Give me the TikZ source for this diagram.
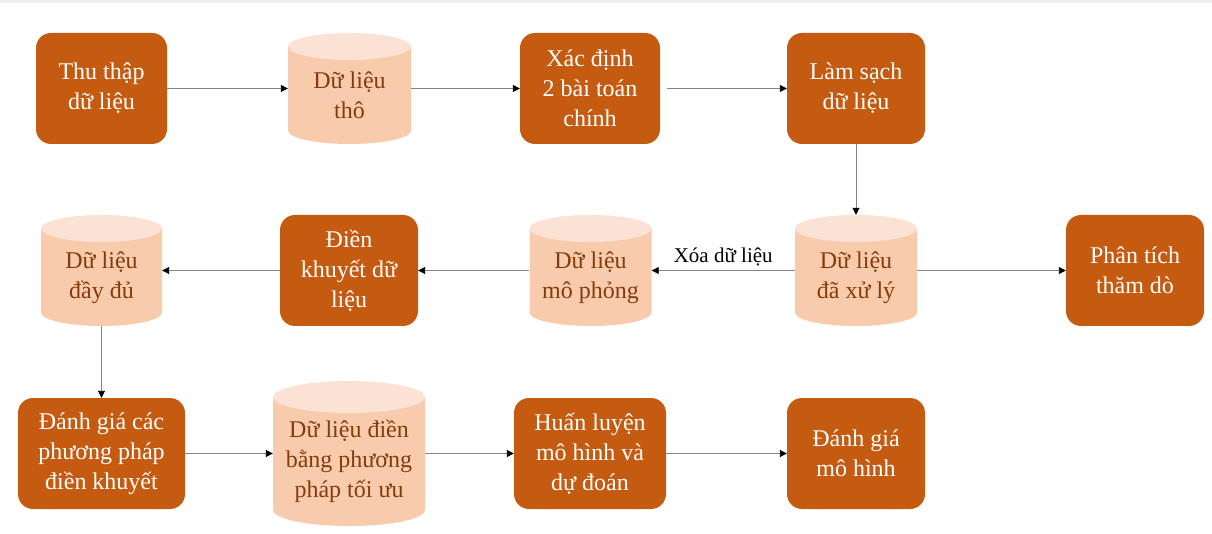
\documentclass[tikz,border=0pt]{standalone}
\usepackage{fontspec}
\setmainfont{Liberation Serif}
\usetikzlibrary{arrows.meta,calc}
\definecolor{boxorange}{HTML}{C55A11}
\definecolor{cylbody}{HTML}{F8CBAD}
\definecolor{cyltop}{HTML}{FBE2D5}
\definecolor{cyltxt}{HTML}{843C0C}
\definecolor{linegray}{HTML}{858585}
\definecolor{topstrip}{HTML}{EEEEEE}
\newcommand\drawcyl[5]{% cx, cy, w, h, ry
  \fill[cylbody] ({#1-#3/2},{#2+#4/2-#5}) -- ({#1-#3/2},{#2-#4/2+#5})
    arc[start angle=180,end angle=360,x radius={#3/2},y radius=#5]
    -- ({#1+#3/2},{#2+#4/2-#5}) -- cycle;
  \fill[cyltop] (#1,{#2+#4/2-#5}) ellipse[x radius={#3/2},y radius=#5];
}
\tikzset{
  procbox/.style={rectangle, rounded corners=15pt, fill=boxorange, text=white,
    align=center, minimum height=111pt, inner sep=0pt,
    font=\fontsize{24}{30}\selectfont},
  cylarea/.style={rectangle, inner sep=0pt, minimum height=111pt},
  cyllabel/.style={text=cyltxt, align=center, inner sep=0pt,
    font=\fontsize{24}{30}\selectfont},
  conn/.style={draw=linegray, line width=0.9pt,
    -{Triangle[length=7pt,width=7pt,color=black]}},
  edgelabel/.style={font=\fontsize{21}{25}\selectfont, text=black, inner sep=1pt}
}
\begin{document}
\begin{tikzpicture}[x=1pt,y=1pt]
\useasboundingbox (0,0) rectangle (1212,533);
\fill[white] (0,0) rectangle (1212,533);
\fill[topstrip] (0,530) rectangle (1212,533);

% cylinders (shapes)
\drawcyl{349.5}{444.5}{123}{111}{13.5}
\drawcyl{101.5}{262.5}{121}{111}{13.5}
\drawcyl{590.5}{262.5}{122}{111}{13.5}
\drawcyl{856}{262.5}{122}{111}{13.5}
\drawcyl{349}{79.5}{152}{145}{16}

% cylinder areas
\node[cylarea, minimum width=123pt] (tho) at (349.5,444.5) {};
\node[cylarea, minimum width=121pt] (dayd) at (101.5,262.5) {};
\node[cylarea, minimum width=122pt] (mop) at (590.5,262.5) {};
\node[cylarea, minimum width=122pt] (xl) at (856,262.5) {};
\node[cylarea, minimum width=152pt, minimum height=145pt] (dld) at (349,79.5) {};

\node[cyllabel] (thoT) at ([yshift=-7pt]tho.center) {Dữ liệu\\thô};
\node[cyllabel] (daydT) at ([yshift=-7pt]dayd.center) {Dữ liệu\\đầy đủ};
\node[cyllabel] (mopT) at ([yshift=-7pt]mop.center) {Dữ liệu\\mô phỏng};
\node[cyllabel] (xlT) at ([yshift=-7pt]xl.center) {Dữ liệu\\đã xử lý};
\node[cyllabel] (dldT) at ([yshift=-8pt]dld.center) {Dữ liệu điền\\bằng phương\\pháp tối ưu};

% process boxes
\node[procbox, minimum width=131pt] (thu) at (101.5,444.5) {Thu thập\\dữ liệu};
\node[procbox, minimum width=140pt] (xac) at (590,444.5) {Xác định\\2 bài toán\\chính};
\node[procbox, minimum width=138pt] (lam) at (856,444.5) {Làm sạch\\dữ liệu};
\node[procbox, minimum width=138pt] (dien) at (349,262.5) {Điền\\khuyết dữ\\liệu};
\node[procbox, minimum width=138pt] (phan) at (1135,262.5) {Phân tích\\thăm dò};
\node[procbox, minimum width=167pt] (dgc) at (101.5,79.5) {Đánh giá các\\phương pháp\\điền khuyết};
\node[procbox, minimum width=152pt] (hl) at (590,79.5) {Huấn luyện\\mô hình và\\dự đoán};
\node[procbox, minimum width=138pt] (dgm) at (856,79.5) {Đánh giá\\mô hình};

% connectors
\draw[conn] (thu.east) -- (tho.west);
\draw[conn] (tho.east) -- (xac.west);
\draw[conn, shorten <=7pt] (xac.east) -- (lam.west);
\draw[conn] (lam.south) -- (xl.north);
\draw[conn] (xl.west) -- node[edgelabel, above=3pt] (xoa) {Xóa dữ liệu} (mop.east);
\draw[conn] (xl.east) -- (phan.west);
\draw[conn] (mop.west) -- (dien.east);
\draw[conn] (dien.west) -- (dayd.east);
\draw[conn] (dayd.south) -- (dgc.north);
\draw[conn] (dgc.east) -- (dld.west);
\draw[conn] (dld.east) -- (hl.west);
\draw[conn] (hl.east) -- (dgm.west);
\end{tikzpicture}
\end{document}
